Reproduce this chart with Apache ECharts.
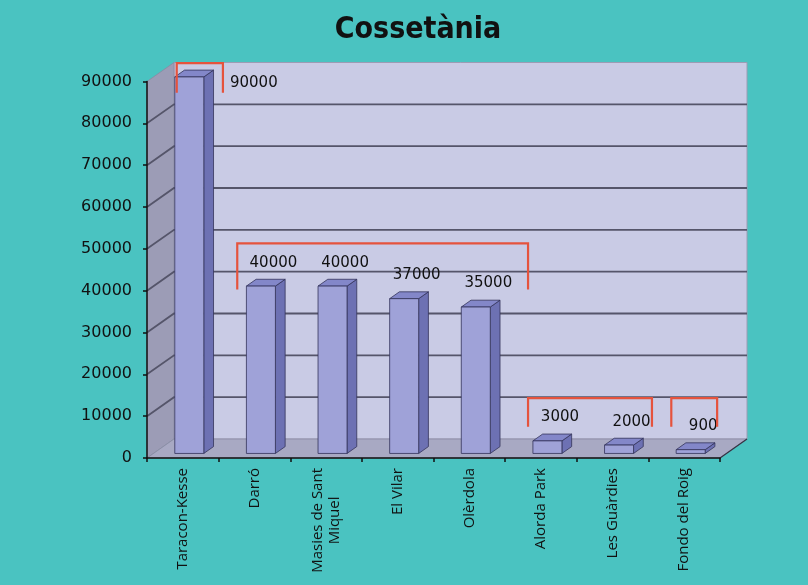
<!DOCTYPE html>
<html>
<head>
<meta charset="utf-8">
<script src="https://cdn.jsdelivr.net/npm/echarts@6/dist/echarts.min.js"></script>
<style>
html,body{margin:0;padding:0;background:#4AC3C1;}
#chart{width:808px;height:585px;}
</style>
</head>
<body>
<div id="chart"></div>
<script>
// ---- data ----
const categories = ['Taracon-Kesse', 'Darró', 'Masies de Sant\nMiquel', 'El Vilar', 'Olèrdola', 'Alorda Park', 'Les Guàrdies', 'Fondo del Roig'];
const values = [90000, 40000, 40000, 37000, 35000, 3000, 2000, 900];
const yMax = 90000;
const yStep = 10000;
// bracket groups (category units / value units)
const bracketFrom = [-0.085, 0.76, 4.82, 6.82];
const bracketTo = [0.56, 4.82, 6.55, 7.46];
const bracketTop = [94400, 51300, 14300, 14300];
const bracketBottom = [87300, 40300, 7500, 7500];

// ---- style constants ----
const DX = 27, DY = -19;        // depth of the 3D frame
const D1 = 0.24, D2 = 0.60;     // bar depth range (fraction of frame depth)
const BAR_RATIO = 0.405;
const C = {
  bg: '#4AC3C1', back: '#C9CBE5', left: '#9C9CB6', floor: '#A8A9C3',
  grid: '#55556A', front: '#9FA2D8', side: '#6D71B3', top: '#8387C9',
  edge: '#34345A', bracket: '#E5533D', text: '#111111'
};

const chart = echarts.init(document.getElementById('chart'), null, {renderer: 'canvas'});

function renderFrame(params, api) {
  const cs = params.coordSys;
  const L = cs.x, R = cs.x + cs.width;
  const y0 = api.coord([0, 0])[1];
  const yT = api.coord([0, yMax])[1];
  const children = [];
  children.push({type: 'polygon', shape: {points: [[L + DX, yT + DY], [R + DX, yT + DY], [R + DX, y0 + DY], [L + DX, y0 + DY]]},
    style: {fill: C.back, stroke: '#9c9cb4', lineWidth: 1}});
  children.push({type: 'polygon', shape: {points: [[L, yT], [L + DX, yT + DY], [L + DX, y0 + DY], [L, y0]]},
    style: {fill: C.left, stroke: '#8a8aa2', lineWidth: 0.8}});
  children.push({type: 'polygon', shape: {points: [[L, y0], [R, y0], [R + DX, y0 + DY], [L + DX, y0 + DY]]},
    style: {fill: C.floor, stroke: '#8a8aa2', lineWidth: 0.8}});
  children.push({type: 'line', shape: {x1: R, y1: y0, x2: R + DX, y2: y0 + DY}, style: {stroke: '#333344', lineWidth: 1.2}});
  for (let v = yStep; v < yMax; v += yStep) {
    const y = api.coord([0, v])[1];
    children.push({type: 'polyline', shape: {points: [[L, y], [L + DX, y + DY], [R + DX, y + DY]]},
      style: {stroke: C.grid, lineWidth: 1.8, fill: null}});
  }
  return {type: 'group', children: children};
}

function renderBar(params, api) {
  const i = api.value(0), v = api.value(1);
  const topP = api.coord([i, v]);
  const baseP = api.coord([i, 0]);
  const band = api.size([1, 0])[0];
  const bw = band * BAR_RATIO;
  const cx = topP[0] + DX * D1;
  const x0 = cx - bw / 2, x1 = cx + bw / 2;
  const yT = topP[1] + DY * D1, yB = baseP[1] + DY * D1;
  const sx = DX * (D2 - D1), sy = DY * (D2 - D1);
  const edge = {stroke: C.edge, lineWidth: 0.8};
  let lx = topP[0] + 19, ly = topP[1] - 28;
  if (params.dataIndex === 0) { lx = topP[0] + 71; ly = topP[1] + 2; }
  return {type: 'group', children: [
    {type: 'polygon', shape: {points: [[x1, yT], [x1 + sx, yT + sy], [x1 + sx, yB + sy], [x1, yB]]}, style: Object.assign({fill: C.side}, edge)},
    {type: 'polygon', shape: {points: [[x0, yT], [x1, yT], [x1 + sx, yT + sy], [x0 + sx, yT + sy]]}, style: Object.assign({fill: C.top}, edge)},
    {type: 'rect', shape: {x: x0, y: yT, width: bw, height: yB - yT}, style: Object.assign({fill: C.front}, edge)},
    {type: 'text', z2: 10, style: {text: String(v), x: lx, y: ly, align: 'center', verticalAlign: 'middle',
      fontSize: 15, fontFamily: 'DejaVu Sans', fill: C.text}}
  ]};
}

function renderBracket(params, api) {
  const a = api.value(0), b = api.value(1), t = api.value(2), bt = api.value(3);
  const c0 = api.coord([0, 0])[0];
  const band = api.size([1, 0])[0];
  const xa = c0 + a * band, xb = c0 + b * band;
  const ya = api.coord([0, t])[1], yb = api.coord([0, bt])[1];
  return {type: 'polyline', shape: {points: [[xa, yb], [xa, ya], [xb, ya], [xb, yb]]},
    style: {stroke: C.bracket, lineWidth: 2.2, fill: null}};
}

const option = {
  backgroundColor: C.bg,
  animation: false,
  title: {
    text: 'Cossetània', left: 413, top: 10, textAlign: 'center',
    textStyle: {fontFamily: '"Liberation Sans Narrow", "DejaVu Sans Condensed", sans-serif', fontWeight: 'bold', fontSize: 30, color: C.text}
  },
  grid: {left: 147, right: 88, top: 81.5, bottom: 127, containLabel: false},
  xAxis: {
    type: 'category', data: categories, z: 10,
    axisLine: {show: true, lineStyle: {color: '#111', width: 1.5}},
    axisTick: {show: true, length: 4, lineStyle: {color: '#111', width: 1.5}},
    axisLabel: {
      interval: 0, rotate: 90, margin: 10, color: C.text, fontFamily: 'Open Sans', fontSize: 15,
      formatter: function (s) { return s.split('\n').map(function (p) { return '{c|' + p + '}'; }).join('\n'); },
      rich: {c: {align: 'center', fontFamily: 'Open Sans', fontSize: 15, color: C.text, lineHeight: 17}}
    },
    splitLine: {show: false}
  },
  yAxis: {
    type: 'value', min: 0, max: yMax, interval: yStep, z: 10,
    axisLine: {show: true, lineStyle: {color: '#111', width: 1.5}},
    axisTick: {show: true, length: 4, lineStyle: {color: '#111', width: 1.5}},
    axisLabel: {margin: 15, color: C.text, fontFamily: 'DejaVu Sans', fontSize: 16,
      formatter: function (v) { return String(v); }},
    splitLine: {show: false}
  },
  series: [
    {type: 'custom', z: 1, clip: false, renderItem: renderFrame, data: [[0, 0]], silent: true},
    {type: 'custom', z: 3, clip: false, renderItem: renderBar,
      data: values.map(function (v, i) { return [i, v]; })},
    {type: 'custom', z: 4, clip: false, renderItem: renderBracket,
      data: bracketFrom.map(function (f, k) { return [f, bracketTo[k], bracketTop[k], bracketBottom[k]]; })}
  ]
};
chart.setOption(option);
</script>
</body>
</html>
